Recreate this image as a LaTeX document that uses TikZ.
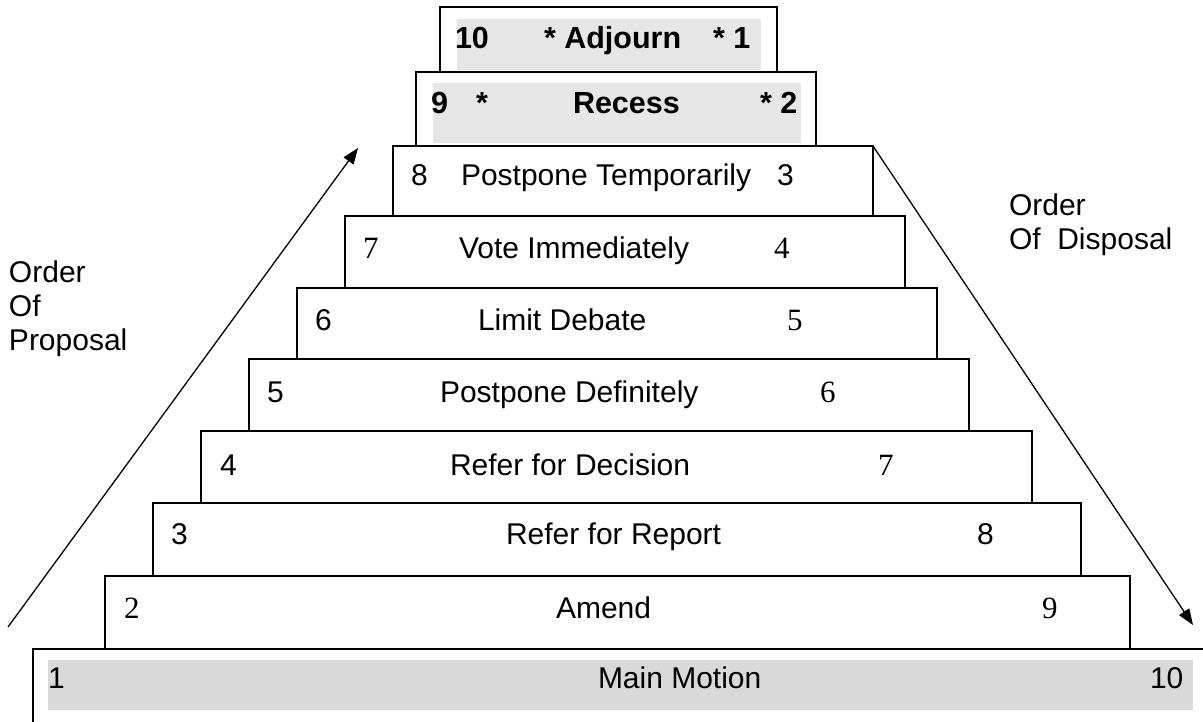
\documentclass[tikz,border=0pt]{standalone}
\usepackage{fontspec}
\setmainfont{Liberation Sans}
\newfontfamily\tnr{Liberation Serif}
\usetikzlibrary{arrows.meta}
\definecolor{lightband}{RGB}{230,230,230}
\definecolor{mainband}{RGB}{217,217,217}
\begin{document}
\begin{tikzpicture}[x=1pt,y=-1pt]
\tikzstyle{every node}=[inner sep=0pt,outer sep=0pt]
\tikzstyle{box}=[draw,line width=2pt,fill=white,anchor=north west]
\tikzstyle{lbl}=[anchor=base west,font=\fontsize{30}{34}\selectfont]
\tikzstyle{blbl}=[anchor=base west,font=\fontsize{30.5}{34}\selectfont\bfseries]
\tikzstyle{num}=[anchor=base west,font=\fontsize{31}{34}\selectfont\tnr]
\tikzstyle{flow}=[line width=1.3pt,-{Triangle[length=16pt,width=12pt]}]
\clip (0,0) rectangle (1203,721);
% steps, from the bottom up
\node[box,minimum width=1250,minimum height=120] (b1) at (33,649) {};
\fill[mainband] (48,660) rectangle (1193,710);
\node[box,minimum width=1025,minimum height=73] (b2) at (105,576) {};
\node[box,minimum width=928,minimum height=73] (b3) at (153,503) {};
\node[box,minimum width=831,minimum height=72] (b4) at (201,431) {};
\node[box,minimum width=720,minimum height=72] (b5) at (249,359) {};
\node[box,minimum width=640,minimum height=71] (b6) at (297,288) {};
\node[box,minimum width=560,minimum height=72] (b7) at (345,216) {};
\node[box,minimum width=480,minimum height=70] (b8) at (393,146) {};
\node[box,minimum width=400,minimum height=74] (b9) at (416,72) {};
\fill[lightband] (433,83) rectangle (801,143);
\node[box,minimum width=337,minimum height=65] (b10) at (440,7) {};
\fill[lightband] (457,19) rectangle (761,70);
% labels
\node[blbl] (p10) at (455,48) {10};
\node[blbl] (t10) at (544,48) {* Adjourn};
\node[blbl] (d10) at (713,48) {* 1};
\node[blbl] (p9) at (431,113) {9};
\node[blbl] (s9) at (476,113) {*};
\node[blbl] (t9) at (573,113) {Recess};
\node[blbl] (d9) at (760,113) {* 2};
\node[lbl] (p8) at (411,185) {8};
\node[lbl] (t8) at (461,185) {Postpone Temporarily};
\node[lbl] (d8) at (777,185) {3};
\node[num] (p7) at (363,258) {7};
\node[lbl] (t7) at (459,258) {Vote Immediately};
\node[num] (d7) at (774,258) {4};
\node[lbl] (p6) at (315,330) {6};
\node[lbl] (t6) at (478,330) {Limit Debate};
\node[num] (d6) at (787,330) {5};
\node[lbl] (p5) at (267,402) {5};
\node[lbl] (t5) at (440,402) {Postpone Definitely};
\node[num] (d5) at (820,402) {6};
\node[lbl] (p4) at (220,475) {4};
\node[lbl] (t4) at (450,475) {Refer for Decision};
\node[num] (d4) at (878,475) {7};
\node[lbl] (p3) at (171,544) {3};
\node[lbl] (t3) at (506,544) {Refer for Report};
\node[lbl] (d3) at (977,544) {8};
\node[num] (p2) at (124,618) {2};
\node[lbl] (t2) at (556,618) {Amend};
\node[num] (d2) at (1042,618) {9};
\node[lbl] (p1) at (48,688) {1};
\node[lbl] (t1) at (598,688) {Main Motion};
\node[lbl] (d1) at (1150,688) {10};
% orders
\node[lbl,anchor=north west,align=left] (prop) at (9,261) {Order\\Of\\Proposal};
\node[lbl,anchor=north west,align=left] (disp) at (1009,194) {Order\\Of\ \ Disposal};
\coordinate (ps) at (8,627);
\coordinate (pe) at (358,148);
\coordinate (de) at (1193,625);
\draw[flow] (ps) -- (pe);
\draw[flow] (b8.north east) -- (de);
\end{tikzpicture}
\end{document}
